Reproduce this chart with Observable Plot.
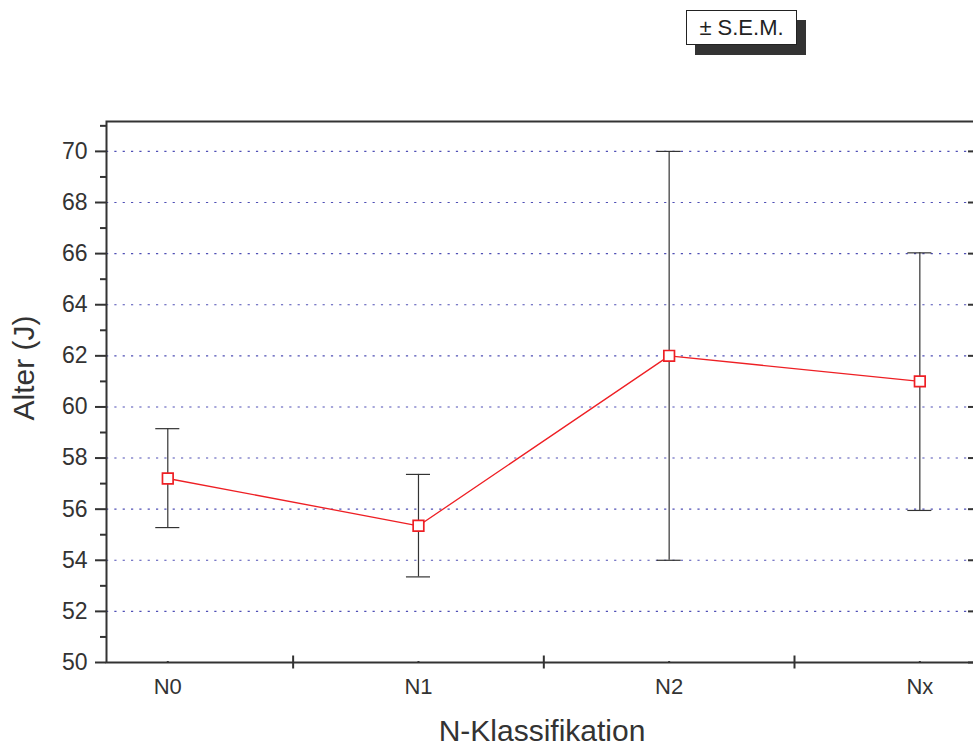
<!DOCTYPE html>
<html><head><meta charset="utf-8">
<script src="https://cdn.jsdelivr.net/npm/d3@7"></script>
<script src="https://cdn.jsdelivr.net/npm/@observablehq/plot@0.6"></script>
<style>
html,body{margin:0;padding:0;background:#fff;overflow:hidden;width:973px;height:747px;}
#wrap{position:relative;width:973px;height:747px;overflow:hidden;font-family:"Liberation Sans",Arial,sans-serif;color:#333}
#wrap svg{position:absolute;left:0;top:0;max-width:none !important;width:990px !important;height:747px !important;}
.ylab{position:absolute;left:24px;top:368px;transform:translate(-50%,-50%) rotate(-90deg);font-size:30px;white-space:nowrap;line-height:30px;color:#333}
.xlab{position:absolute;left:542px;top:716px;transform:translateX(-50%);font-size:30px;white-space:nowrap;line-height:30px;color:#333}
.legend{position:absolute;left:686px;top:10px;width:111px;height:35px;border:1px solid #222;background:#fff;box-shadow:9px 10px 0 #333;display:flex;align-items:center;justify-content:center;font-size:22px;color:#222;box-sizing:border-box}
</style></head><body><div id="wrap"></div>
<script>
// Data
const categories = ["N0", "N1", "N2", "Nx"];
const means = [57.2, 55.35, 62.0, 61.0];
const lower = [55.28, 53.35, 54.0, 55.95];
const upper = [59.15, 57.36, 70.0, 66.03];
const yMajorTicks = [50, 52, 54, 56, 58, 60, 62, 64, 66, 68, 70];
const yMinorTicks = [51, 53, 55, 57, 59, 61, 63, 65, 67, 69, 71];
const xCrossTicks = [1.5, 2.5, 3.5];
const legendLabel = "± S.E.M.";
const xTitle = "N-Klassifikation";
const yTitle = "Alter (J)";

const data = categories.map((c, i) => ({x: i + 1, cat: c, mean: means[i], lo: lower[i], hi: upper[i]}));
const gridTicks = yMajorTicks.filter(v => v > 50);
const capHalf = 0.048;
const axisColor = "#333";
const red = "#ee1f24";

const plot = Plot.plot({
  width: 990, height: 747,
  marginTop: 121, marginBottom: 85, marginLeft: 106, marginRight: 12,
  style: {fontFamily: "Liberation Sans, Arial, sans-serif", fontSize: "22px", color: axisColor, background: "transparent", overflow: "visible"},
  x: {domain: [0.7555, 4.234]},
  y: {domain: [50, 71.17]},
  marks: [
    Plot.gridY(gridTicks, {stroke: "#3030a8", strokeOpacity: 0.85, strokeDasharray: "2.2,6.13", strokeWidth: 1.1}),
    Plot.frame({stroke: axisColor, strokeWidth: 2}),
    Plot.axisY(yMajorTicks, {anchor: "left", tickSize: 11, tickPadding: 8, fontSize: 23, color: axisColor, strokeWidth: 2, label: null}),
    Plot.axisY(yMinorTicks, {anchor: "left", tickSize: 6, tickFormat: () => "", color: axisColor, strokeWidth: 2, label: null}),
    Plot.axisY(yMajorTicks, {anchor: "right", tickSize: 11, dx: -11, tickFormat: () => "", color: axisColor, strokeWidth: 2, label: null}),
    Plot.axisY(yMinorTicks, {anchor: "right", tickSize: 6, dx: -6, tickFormat: () => "", color: axisColor, strokeWidth: 2, label: null}),
    Plot.axisX([1, 2, 3, 4], {anchor: "bottom", tickSize: 0, tickPadding: 16, tickFormat: d => categories[d - 1], fontSize: 22, color: axisColor, label: null}),
    Plot.axisX([1, 2, 3, 4], {anchor: "bottom", tickSize: 2, dy: -1, tickFormat: () => "", color: axisColor, strokeWidth: 2, label: null}),
    Plot.axisX(xCrossTicks, {anchor: "bottom", tickSize: 13, dy: -6.5, tickFormat: () => "", color: axisColor, strokeWidth: 2, label: null}),
    Plot.ruleX(data, {x: "x", y1: "lo", y2: "hi", stroke: "#333", strokeWidth: 1.2}),
    Plot.ruleY(data, {y: "hi", x1: d => d.x - capHalf, x2: d => d.x + capHalf, stroke: "#333", strokeWidth: 1.2}),
    Plot.ruleY(data, {y: "lo", x1: d => d.x - capHalf, x2: d => d.x + capHalf, stroke: "#333", strokeWidth: 1.2}),
    Plot.line(data, {x: "x", y: "mean", stroke: red, strokeWidth: 1.3}),
    Plot.dot(data, {x: "x", y: "mean", symbol: "square", r: 6, stroke: red, fill: "white", strokeWidth: 1.7})
  ]
});

const wrap = document.getElementById("wrap");
wrap.appendChild(plot);
const yl = document.createElement("div"); yl.className = "ylab"; yl.textContent = yTitle; wrap.appendChild(yl);
const xl = document.createElement("div"); xl.className = "xlab"; xl.textContent = xTitle; wrap.appendChild(xl);
const lg = document.createElement("div"); lg.className = "legend"; lg.textContent = legendLabel; wrap.appendChild(lg);
</script>
</body></html>
